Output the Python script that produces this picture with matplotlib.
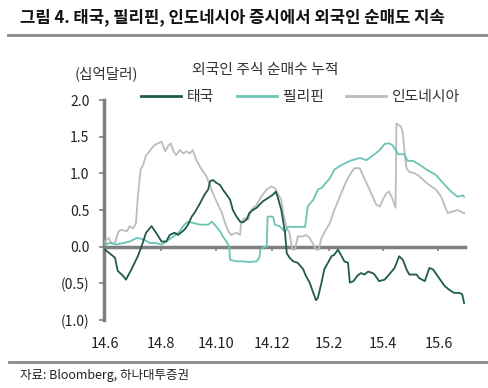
import matplotlib
matplotlib.use("Agg")
import matplotlib.pyplot as plt
import pandas as pd
from matplotlib.lines import Line2D

plt.rcParams['font.family'] = ['Noto Sans CJK KR', 'DejaVu Sans']

# ---- data ----
thai_dates = ["2014-06-01","2014-06-06","2014-06-12","2014-06-15","2014-06-21","2014-06-24","2014-06-30",
              "2014-07-07","2014-07-11","2014-07-16","2014-07-22","2014-07-27","2014-08-02","2014-08-07",
              "2014-08-11","2014-08-16","2014-08-20","2014-08-27","2014-08-31","2014-09-04","2014-09-07",
              "2014-09-13","2014-09-18","2014-09-22","2014-09-24","2014-09-27","2014-10-01","2014-10-05",
              "2014-10-08","2014-10-12","2014-10-16","2014-10-19","2014-10-23","2014-10-27","2014-10-30",
              "2014-11-03","2014-11-06","2014-11-10","2014-11-14","2014-11-17","2014-11-21","2014-11-26",
              "2014-12-02","2014-12-05","2014-12-07","2014-12-11","2014-12-15","2014-12-17","2014-12-20",
              "2014-12-24","2014-12-29","2015-01-04","2015-01-07","2015-01-11","2015-01-15","2015-01-18",
              "2015-01-20","2015-01-24","2015-01-27","2015-01-31","2015-02-04","2015-02-07","2015-02-11",
              "2015-02-15","2015-02-18","2015-02-22","2015-02-24","2015-02-28","2015-03-04","2015-03-08",
              "2015-03-12","2015-03-16","2015-03-21","2015-03-23","2015-03-28","2015-04-03","2015-04-08",
              "2015-04-14","2015-04-19","2015-04-23","2015-04-27","2015-04-30","2015-05-08","2015-05-11",
              "2015-05-17","2015-05-22","2015-05-26","2015-05-31","2015-06-04","2015-06-08","2015-06-13",
              "2015-06-18","2015-06-24","2015-06-27","2015-06-29"]
thai_values = [-0.04,-0.09,-0.15,-0.33,-0.40,-0.45,-0.31,
               -0.13,0.00,0.19,0.28,0.19,0.07,0.07,
               0.16,0.19,0.16,0.23,0.30,0.41,0.46,
               0.59,0.71,0.78,0.89,0.91,0.87,0.84,
               0.78,0.71,0.64,0.50,0.41,0.34,0.33,
               0.37,0.46,0.50,0.53,0.57,0.62,0.66,
               0.71,0.75,0.68,0.50,0.20,-0.09,-0.15,
               -0.20,-0.22,-0.31,-0.40,-0.49,-0.63,-0.73,
               -0.70,-0.49,-0.31,-0.22,-0.13,-0.11,-0.04,
               -0.13,-0.20,-0.22,-0.49,-0.47,-0.40,-0.36,
               -0.38,-0.34,-0.36,-0.38,-0.47,-0.45,-0.38,
               -0.29,-0.13,-0.18,-0.31,-0.38,-0.38,-0.43,
               -0.47,-0.29,-0.31,-0.40,-0.47,-0.54,-0.59,
               -0.63,-0.63,-0.65,-0.77]

phil_dates = ["2014-06-01","2014-06-06","2014-06-14","2014-06-21","2014-06-28","2014-07-06","2014-07-13",
              "2014-07-20","2014-07-27","2014-08-02","2014-08-07","2014-08-15","2014-08-22","2014-08-27",
              "2014-08-31","2014-09-07","2014-09-13","2014-09-22","2014-09-26","2014-09-29","2014-10-05",
              "2014-10-08","2014-10-12","2014-10-15","2014-10-16","2014-10-23","2014-10-30","2014-11-06",
              "2014-11-14","2014-11-17","2014-11-18","2014-11-23","2014-11-25","2014-11-26","2014-12-02",
              "2014-12-04","2014-12-09","2014-12-13","2014-12-15","2014-12-18","2015-01-06","2015-01-09",
              "2015-01-15","2015-01-20","2015-01-24","2015-02-02","2015-02-07","2015-02-13","2015-02-24",
              "2015-03-07","2015-03-14","2015-03-21","2015-03-29","2015-04-03","2015-04-08","2015-04-12",
              "2015-04-18","2015-04-25","2015-04-28","2015-05-04","2015-05-11","2015-05-19","2015-05-29",
              "2015-06-08","2015-06-15","2015-06-22","2015-06-28","2015-06-29"]
phil_values = [0.03,0.05,0.03,0.05,0.07,0.12,0.10,
               0.05,0.05,0.03,0.07,0.14,0.21,0.30,
               0.34,0.32,0.30,0.30,0.34,0.30,0.21,
               0.14,0.07,0.00,-0.18,-0.20,-0.20,-0.21,
               -0.20,-0.15,-0.04,0.00,0.00,0.41,0.41,
               0.30,0.28,0.23,0.20,0.27,0.27,0.55,
               0.64,0.78,0.80,0.93,1.05,1.10,1.17,
               1.21,1.18,1.24,1.32,1.40,1.41,1.38,
               1.26,1.26,1.17,1.17,1.12,1.05,0.98,
               0.84,0.75,0.68,0.70,0.68]

indo_dates = ["2014-06-01","2014-06-05","2014-06-08","2014-06-12","2014-06-16","2014-06-19","2014-06-25",
              "2014-06-28","2014-07-02","2014-07-05","2014-07-07","2014-07-10","2014-07-13","2014-07-16",
              "2014-07-18","2014-07-22","2014-07-26","2014-07-29","2014-08-02","2014-08-06","2014-08-09",
              "2014-08-12","2014-08-15","2014-08-18","2014-08-22","2014-08-26","2014-08-29","2014-09-02",
              "2014-09-05","2014-09-09","2014-09-15","2014-09-20","2014-09-24","2014-09-27","2014-10-01",
              "2014-10-07","2014-10-10","2014-10-14","2014-10-17","2014-10-23","2014-10-27","2014-10-28",
              "2014-11-01","2014-11-05","2014-11-08","2014-11-14","2014-11-19","2014-11-25","2014-11-30",
              "2014-12-04","2014-12-07","2014-12-11","2014-12-13","2014-12-17","2014-12-20","2014-12-23",
              "2014-12-26","2014-12-29","2015-01-04","2015-01-07","2015-01-11","2015-01-15","2015-01-18",
              "2015-01-21","2015-01-24","2015-01-27","2015-02-02","2015-02-07","2015-02-13","2015-02-20",
              "2015-02-26","2015-03-01","2015-03-07","2015-03-10","2015-03-16","2015-03-21","2015-03-25",
              "2015-03-29","2015-04-01","2015-04-05","2015-04-08","2015-04-12","2015-04-15","2015-04-16",
              "2015-04-21","2015-04-23","2015-04-25","2015-04-27","2015-04-30","2015-05-06","2015-05-11",
              "2015-05-17","2015-05-22","2015-05-29","2015-06-04","2015-06-08","2015-06-11","2015-06-17",
              "2015-06-22","2015-06-28","2015-06-29"]
indo_values = [0.07,0.12,0.05,0.05,0.21,0.23,0.21,
               0.28,0.25,0.32,0.68,1.05,1.12,1.25,
               1.27,1.34,1.39,1.41,1.43,1.30,1.37,
               1.41,1.30,1.25,1.32,1.27,1.30,1.27,
               1.32,1.18,1.05,0.96,0.84,0.73,0.62,
               0.46,0.34,0.21,0.16,0.19,0.16,0.34,
               0.39,0.37,0.50,0.57,0.68,0.78,0.82,
               0.80,0.73,0.64,0.46,0.25,0.19,-0.04,
               -0.04,0.14,0.14,0.16,0.12,0.03,-0.04,
               -0.04,0.12,0.19,0.32,0.50,0.68,0.89,
               1.02,1.07,1.07,0.98,0.82,0.68,0.57,
               0.55,0.64,0.73,0.75,0.64,0.53,1.68,
               1.64,1.55,1.27,1.07,1.02,1.00,0.96,
               0.89,0.84,0.78,0.68,0.55,0.46,0.48,
               0.50,0.46,0.46]

series_names = ["태국", "필리핀", "인도네시아"]
series_colors = ["#1f5a4e", "#6cc3b6", "#bcbcbc"]

ytick_values = [2.0, 1.5, 1.0, 0.5, 0.0, -0.5, -1.0]
ytick_labels = ["2.0", "1.5", "1.0", "0.5", "0.0", "(0.5)", "(1.0)"]
xtick_dates = ["2014-06-01","2014-08-01","2014-10-01","2014-12-01","2015-02-01","2015-04-01","2015-06-01"]
xtick_labels = ["14.6", "14.8", "14.10", "14.12", "15.2", "15.4", "15.6"]

title = "그림 4. 태국, 필리핀, 인도네시아 증시에서 외국인 순매도 지속"
chart_title = "외국인 주식 순매수 누적"
unit_label = "(십억달러)"
source = "자료: Bloomberg, 하나대투증권"

# ---- figure ----
W, H = 488, 388
fig = plt.figure(figsize=(W/100, H/100), dpi=100)
fig.patch.set_facecolor("white")

ax = fig.add_axes([104/W, 1-320/H, (465-104)/W, (320-100)/H])

grey = "#7f7f7f"
series = [(thai_dates, thai_values), (phil_dates, phil_values), (indo_dates, indo_values)]
for idx in [2, 1, 0]:
    d, v = series[idx]
    ax.plot(pd.to_datetime(d), v, color=series_colors[idx], lw=1.3, zorder=3 + (2 - idx))

x0 = pd.Timestamp("2014-06-01") - pd.Timedelta(days=1)
x1 = pd.Timestamp("2014-06-01") + pd.Timedelta(days=394)
ax.set_xlim(x0, x1)
ax.set_ylim(-1.0, 2.0)

for s in ["top", "right", "bottom"]:
    ax.spines[s].set_visible(False)
ax.spines["left"].set_color(grey)
ax.spines["left"].set_linewidth(2.5)

ax.set_yticks(ytick_values)
ax.set_yticklabels(ytick_labels)
ax.tick_params(axis="y", direction="out", length=3.5, width=1.2, color=grey,
               labelsize=10, pad=7, labelcolor="#222222")

xt = pd.to_datetime(xtick_dates)
ax.set_xticks(xt)
ax.set_xticklabels(xtick_labels)
ax.tick_params(axis="x", length=0, labelsize=10.5, pad=12, labelcolor="#222222")

# zero line with tick marks
sec = ax.secondary_xaxis(1/3)
sec.set_xticks(xt)
sec.set_xticklabels([])
sec.spines["bottom"].set_color(grey)
sec.spines["bottom"].set_linewidth(2.5)
sec.tick_params(axis="x", direction="out", length=3, width=1.2, color=grey)

# legend
handles = [Line2D([], [], color=c, lw=2) for c in series_colors]
fig.legend(handles, series_names, loc="center left", bbox_to_anchor=(141/W, 1-97/H),
           ncol=3, frameon=False, fontsize=10.7, handlelength=2.7, handletextpad=0.4,
           columnspacing=1.5, borderaxespad=0, borderpad=0, labelcolor="#333333")

# texts
fig.text(20/W, 1-17/H, title, fontsize=12, fontweight="bold", ha="left", va="center", color="#111111")
fig.add_artist(Line2D([8/W, 487/W], [1-35/H, 1-35/H], color="#8a8a8a", lw=2))
fig.text(106/W, 1-74/H, unit_label, fontsize=10.5, ha="center", va="center", color="#333333")
fig.text(265/W, 1-70/H, chart_title, fontsize=10.7, ha="center", va="center", color="#333333")
fig.add_artist(Line2D([9/W, 488/W], [1-362/H, 1-362/H], color="#8a8a8a", lw=2))
fig.text(20/W, 1-375/H, source, fontsize=9, ha="left", va="center", color="#222222")

fig.savefig("out.png", dpi=100)
